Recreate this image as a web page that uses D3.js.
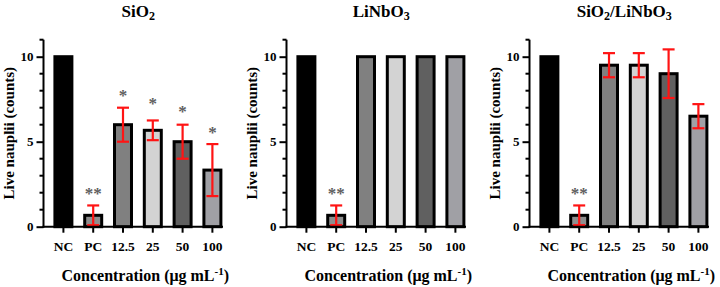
<!DOCTYPE html>
<html>
<head>
<meta charset="utf-8">
<script src="https://cdn.jsdelivr.net/npm/d3@7"></script>
<style>
html,body{margin:0;padding:0;background:#fff;}
svg{display:block;}
text{font-family:"Liberation Serif","Times New Roman",serif;font-weight:bold;}
</style>
</head>
<body>
<svg id="chart" width="720" height="287"></svg>
<script>
// ---- data ----
const categories = ["NC", "PC", "12.5", "25", "50", "100"];
const barColors = ["#000000", "#8e8e8e", "#808080", "#d3d3d3", "#606060", "#a0a0a5"];

const sio2Means  = [10, 0.67, 6, 5.67, 5, 3.33];
const sio2Errors = [0, 0.58, 1, 0.58, 1, 1.53];
const sio2Stars  = ["", "**", "*", "*", "*", "*"];
const sio2StarPos = [0, 2.1, 7.88, 7.41, 6.92, 5.7];

const linbo3Means  = [10, 0.67, 10, 10, 10, 10];
const linbo3Errors = [0, 0.58, 0, 0, 0, 0];
const linbo3Stars  = ["", "**", "", "", "", ""];
const linbo3StarPos = [0, 2.1, 0, 0, 0, 0];

const mixMeans  = [10, 0.67, 9.5, 9.5, 9, 6.5];
const mixErrors = [0, 0.58, 0.71, 0.71, 1.43, 0.71];
const mixStars  = ["", "**", "", "", "", ""];
const mixStarPos = [0, 2.1, 0, 0, 0, 0];

const yTicksMajor = [0, 5, 10];
const yTicksMinor = [1, 2, 3, 4, 6, 7, 8, 9, 11];

const panels = [
  {title: ["SiO", "2", ""], means: sio2Means, errors: sio2Errors, stars: sio2Stars, starPos: sio2StarPos},
  {title: ["LiNbO", "3", ""], means: linbo3Means, errors: linbo3Errors, stars: linbo3Stars, starPos: linbo3StarPos},
  {title: ["SiO", "2", "/LiNbO", "3"], means: mixMeans, errors: mixErrors, stars: mixStars, starPos: mixStarPos}
];

// ---- layout ----
const svg = d3.select("#chart");
const panelStep = 243;
const axisX = 43.5, axisEnd = 223;
const y = d3.scaleLinear().domain([0, 11]).range([226.7, 39.7]);
const x = d3.scaleBand().domain(categories).range([48.5, 227.3]).paddingInner(0.43).paddingOuter(0.215);

panels.forEach((p, pi) => {
  const g = svg.append("g").attr("transform", `translate(${pi * panelStep},0)`);
  const plotMid = (axisX + axisEnd) / 2;

  // title
  const t = g.append("text").attr("x", plotMid + 5).attr("y", 17).attr("text-anchor", "middle")
    .attr("font-size", 17).attr("fill", "#000");
  for (let i = 0; i < p.title.length; i++) {
    if (!p.title[i]) continue;
    if (i % 2 === 1) {
      t.append("tspan").attr("font-size", 12).attr("dy", 3).text(p.title[i]);
    } else {
      t.append("tspan").attr("dy", i > 0 ? -3 : 0).text(p.title[i]);
    }
  }

  // bars
  g.selectAll("rect.bar").data(categories).join("rect")
    .attr("class", "bar")
    .attr("x", d => x(d))
    .attr("width", x.bandwidth())
    .attr("y", (d, i) => y(p.means[i]))
    .attr("height", (d, i) => y(0) - y(p.means[i]))
    .attr("fill", (d, i) => barColors[i])
    .attr("stroke", "#000")
    .attr("stroke-width", 3);

  // error bars
  const capW = 12;
  categories.forEach((c, i) => {
    const e = p.errors[i];
    if (!e) return;
    const cx = x(c) + x.bandwidth() / 2;
    const eg = g.append("g").attr("stroke", "#ff1414").attr("stroke-width", 2.2);
    eg.append("line").attr("x1", cx).attr("x2", cx).attr("y1", y(p.means[i] - e)).attr("y2", y(p.means[i] + e));
    eg.append("line").attr("x1", cx - capW / 2).attr("x2", cx + capW / 2).attr("y1", y(p.means[i] + e)).attr("y2", y(p.means[i] + e));
    eg.append("line").attr("x1", cx - capW / 2).attr("x2", cx + capW / 2).attr("y1", y(p.means[i] - e)).attr("y2", y(p.means[i] - e));
  });

  // significance stars
  categories.forEach((c, i) => {
    if (!p.stars[i]) return;
    g.append("text").attr("x", x(c) + x.bandwidth() / 2).attr("y", y(p.starPos[i]) + 8)
      .attr("text-anchor", "middle").attr("font-size", 17)
      .attr("fill", "#5f5f5f").text(p.stars[i]);
  });

  // y axis
  const ya = g.append("g").attr("transform", `translate(${axisX},0)`);
  ya.call(d3.axisLeft(y).tickValues(yTicksMajor).tickSize(7).tickPadding(3).tickFormat(d3.format("d")));
  ya.select(".domain").remove();
  ya.append("line").attr("x1", 0).attr("x2", 0).attr("y1", y(11)).attr("y2", y(0) + 1).attr("stroke", "#000").attr("stroke-width", 2);
  ya.selectAll(".tick line").attr("stroke", "#000").attr("stroke-width", 2);
  ya.selectAll(".tick text").attr("font-size", 13).attr("fill", "#000")
    .style("font-family", '"Liberation Serif","Times New Roman",serif').style("font-weight", "bold");
  ya.selectAll("line.minor").data(yTicksMinor).join("line").attr("class", "minor")
    .attr("x1", -4).attr("x2", 0).attr("y1", d => y(d)).attr("y2", d => y(d))
    .attr("stroke", "#000").attr("stroke-width", 2);

  // x axis
  const xa = g.append("g").attr("transform", `translate(0,${y(0)})`);
  xa.call(d3.axisBottom(x).tickSize(6).tickPadding(9));
  xa.select(".domain").remove();
  xa.append("line").attr("x1", axisX - 1).attr("x2", axisEnd).attr("y1", 0).attr("y2", 0).attr("stroke", "#000").attr("stroke-width", 2);
  xa.selectAll(".tick line").attr("stroke", "#000").attr("stroke-width", 2);
  xa.selectAll(".tick text").attr("font-size", 13.5).attr("fill", "#000")
    .style("font-family", '"Liberation Serif","Times New Roman",serif').style("font-weight", "bold");

  // y title
  g.append("text").attr("transform", `translate(14,${(y(11) + y(0)) / 2}) rotate(-90)`)
    .attr("text-anchor", "middle").attr("font-size", 15).attr("fill", "#000")
    .text("Live nauplii (counts)");

  // x title
  const xt = g.append("text").attr("x", plotMid + 12).attr("y", 281).attr("text-anchor", "middle")
    .attr("font-size", 16).attr("fill", "#000");
  xt.append("tspan").text("Concentration (μg mL");
  xt.append("tspan").attr("font-size", 11).attr("dy", -6).text("-1");
  xt.append("tspan").attr("dy", 6).text(")");
});
</script>
</body>
</html>
